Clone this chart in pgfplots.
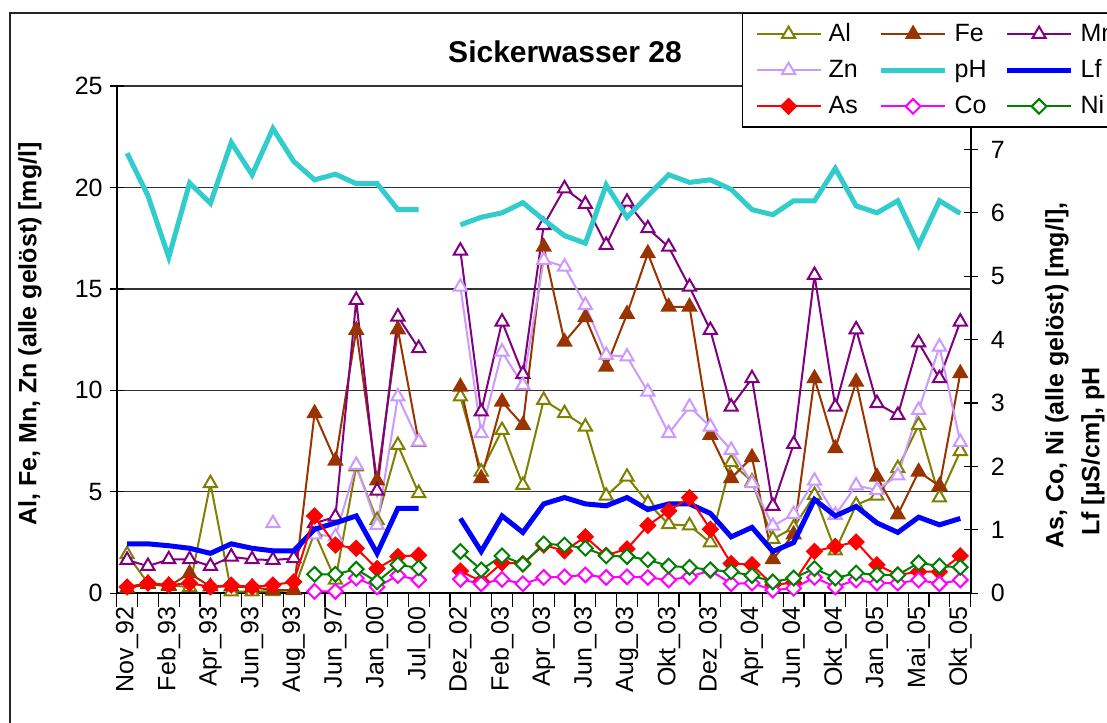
\documentclass[border=0pt]{standalone}
\usepackage{fontspec}
\setmainfont{Liberation Sans}
\usepackage{pgfplots}
\usepackage{pgfplotstable}
\pgfplotsset{compat=1.18}
\definecolor{alc}{RGB}{128,128,0}
\definecolor{fec}{RGB}{153,51,0}
\definecolor{mnc}{RGB}{128,0,128}
\definecolor{znc}{RGB}{204,153,255}
\definecolor{phc}{RGB}{51,204,204}
\definecolor{lfc}{RGB}{0,0,255}
\definecolor{asc}{RGB}{255,0,0}
\definecolor{coc}{RGB}{255,0,255}
\definecolor{nic}{RGB}{0,128,0}

\pgfplotstableread{
i  Al    Fe    Mn    Zn    pH    Lf    As    Co    Ni
0  1.92  0.25  1.64  nan   6.94  0.78  0.10  nan   nan
1  0.50  0.45  1.34  nan   6.27  0.78  0.16  nan   nan
2  0.40  0.35  1.67  nan   5.30  0.75  0.13  nan   nan
3  0.30  0.98  1.67  nan   6.47  0.71  0.16  nan   nan
4  5.42  0.33  1.34  nan   6.15  0.63  0.10  nan   nan
5  0.08  0.33  1.80  nan   7.11  0.78  0.13  nan   nan
6  0.08  0.30  1.67  nan   6.60  0.71  0.10  nan   nan
7  0.10  0.16  1.64  3.45  7.33  0.67  0.13  nan   nan
8  0.15  0.16  1.72  nan   6.81  0.67  0.18  nan   nan
9  3.00  8.87  3.45  2.90  6.52  1.01  1.22  0.03  0.30
10 0.66  6.53  3.77  2.80  6.61  1.11  0.76  0.03  0.30
11 6.24  12.97 14.45 6.32  6.46  1.22  0.71  0.24  0.38
12 3.60  5.55  5.05  3.36  6.46  0.63  0.39  0.10  0.18
13 7.30  13.00 13.63 9.69  6.05  1.34  0.58  0.28  0.45
14 4.93  7.45  12.07 7.47  6.05  1.34  0.60  0.21  0.40
15 nan   nan   nan   nan   nan   nan   nan   nan   nan
16 9.69  10.18 16.88 15.10 5.81  1.18  0.35  0.22  0.66
17 5.99  5.67  8.95  7.88  5.93  0.66  0.19  0.15  0.37
18 8.04  9.44  13.38 11.90 6.00  1.22  0.48  0.22  0.59
19 5.33  8.29  10.80 10.26 6.16  0.96  0.47  0.15  0.46
20 9.52  17.07 18.14 16.42 5.89  1.41  0.76  0.25  0.78
21 8.87  12.39 19.95 16.09 5.64  1.51  0.67  0.26  0.76
22 8.21  13.60 19.18 14.20 5.52  1.41  0.89  0.29  0.71
23 4.80  11.16 17.16 11.74 6.44  1.38  0.60  0.25  0.59
24 5.74  13.76 19.29 11.66 5.93  1.51  0.70  0.26  0.58
25 4.45  16.75 17.98 9.93  6.27  1.32  1.07  0.25  0.53
26 3.40  14.12 17.07 7.88  6.60  1.41  1.30  0.21  0.43
27 3.34  14.12 15.10 9.19  6.48  1.41  1.51  0.26  0.41
28 2.50  7.80  12.97 8.21  6.52  1.26  1.01  0.36  0.37
29 6.45  5.67  9.19  7.06  6.37  0.89  0.47  0.15  0.34
30 5.50  6.70  10.59 5.42  6.05  1.04  0.45  0.16  0.28
31 2.67  1.68  4.30  3.32  5.97  0.66  0.13  0.05  0.18
32 3.24  2.90  7.35  3.90  6.19  0.80  0.17  0.08  0.24
33 4.84  10.59 15.68 5.54  6.19  1.48  0.66  0.25  0.39
34 2.10  7.14  9.19  3.86  6.70  1.22  0.74  0.10  0.24
35 4.35  10.42 13.00 5.31  6.11  1.37  0.81  0.21  0.32
36 4.80  5.74  9.36  5.09  6.00  1.11  0.45  0.16  0.29
37 6.16  3.88  8.78  5.80  6.19  0.96  0.29  0.16  0.29
38 8.29  5.99  12.35 9.03  5.49  1.20  0.34  0.21  0.48
39 4.72  5.29  10.59 12.15 6.19  1.08  0.34  0.15  0.43
40 7.00  10.84 13.38 7.45  5.99  1.18  0.59  0.21  0.41
}\data

\pgfplotsset{
  alst/.style={color=alc, line width=1pt, mark=triangle*, mark size=3.8pt, mark options={solid, fill=white, line width=1pt}},
  fest/.style={color=fec, line width=1pt, mark=triangle*, mark size=3.8pt, mark options={solid, fill=fec, line width=1pt}},
  mnst/.style={color=mnc, line width=1pt, mark=triangle*, mark size=3.8pt, mark options={solid, fill=white, line width=1pt}},
  znst/.style={color=znc, line width=1pt, mark=triangle*, mark size=3.8pt, mark options={solid, fill=white, line width=1pt}},
  phst/.style={color=phc, line width=2.5pt, no markers},
  lfst/.style={color=lfc, line width=2.5pt, no markers},
  asst/.style={color=asc, line width=1pt, mark=square*, mark size=2.6pt, mark options={solid, rotate=45, fill=asc, line width=1pt}},
  cost/.style={color=coc, line width=1pt, mark=square*, mark size=2.6pt, mark options={solid, rotate=45, fill=white, line width=1pt}},
  nist/.style={color=nic, line width=1pt, mark=square*, mark size=2.6pt, mark options={solid, rotate=45, fill=white, line width=1pt}},
  common/.style={
    at={(58.35pt,64.35pt)}, anchor=south west, scale only axis,
    width=427pt, height=253.65pt,
    xmin=-0.5, xmax=40.5,
    unbounded coords=jump,
    axis line style={-, black, line width=0.9pt},
    tick style={black, line width=0.6pt},
    major tick length=7pt,
    ytick align=center,
    xtick align=outside,
    tick label style={font=\fontsize{12.5}{15}\selectfont},
    /pgf/number format/assume math mode=true,
  },
}

\begin{document}
\begin{tikzpicture}[font=\fontsize{12.5}{15}\selectfont]
\useasboundingbox (0pt,0pt) rectangle (553.5pt,361pt);
\fill[white] (0pt,0pt) rectangle (553.5pt,361pt);
\clip (0pt,0pt) rectangle (553.5pt,361pt);
\draw[black!85, line width=0.6pt] (5pt,354.5pt) rectangle (570pt,-15pt);

\begin{axis}[common,
  ymin=0, ymax=25,
  axis x line*=bottom, axis y line*=left,
  xtick={-0.5,0.5,...,40.5}, xticklabels={},
  extra x ticks={0,2,...,40},
  extra x tick labels={Nov\_92,Feb\_93,Apr\_93,Jun\_93,Aug\_93,Jun\_97,Jan\_00,Jul\_00,Dez\_02,Feb\_03,Apr\_03,Jun\_03,Aug\_03,Okt\_03,Dez\_03,Apr\_04,Jun\_04,Okt\_04,Jan\_05,Mai\_05,Okt\_05},
  extra x tick style={major tick length=0pt, tick label style={yshift=-3pt, rotate=90, anchor=east}},
  ytick={0,5,...,25},
  ymajorgrids, grid style={black!80, line width=0.6pt},
]
\addplot[alst] table[x=i,y=Al]{\data};
\addplot[fest] table[x=i,y=Fe]{\data};
\addplot[mnst] table[x=i,y=Mn]{\data};
\addplot[znst] table[x=i,y=Zn]{\data};
\end{axis}

\begin{axis}[common,
  ymin=0, ymax=8,
  axis y line*=right, axis x line=none,
  ytick={0,1,...,7},
  yticklabel style={xshift=3pt},
  legend columns=3,
  legend image code/.code={\draw[mark repeat=2,mark phase=2,#1] plot coordinates {(0pt,0pt) (16pt,0pt) (32pt,0pt)};},
  legend cell align=left,
  legend style={at={(0.7322,1.1439)}, anchor=north west, draw=black, line width=0.6pt, fill=white,
    inner xsep=6.5pt, inner ysep=3pt,
    nodes={inner xsep=3.5pt, inner ysep=2pt, text width=20pt},
    /tikz/every even column/.append style={column sep=1.5pt},
    row sep=3.5pt},
]
\addlegendimage{alst}\addlegendentry{Al}
\addlegendimage{fest}\addlegendentry{Fe}
\addlegendimage{mnst}\addlegendentry{Mn}
\addlegendimage{znst}\addlegendentry{Zn}
\addplot[phst] table[x=i,y=pH]{\data}; \addlegendentry{pH}
\addplot[lfst] table[x=i,y=Lf]{\data}; \addlegendentry{Lf}
\addplot[asst] table[x=i,y=As]{\data}; \addlegendentry{As}
\addplot[cost] table[x=i,y=Co]{\data}; \addlegendentry{Co}
\addplot[nist] table[x=i,y=Ni]{\data}; \addlegendentry{Ni}
\end{axis}

\node[font=\fontsize{15}{18}\selectfont\bfseries] at (282.5pt,335pt) {Sickerwasser 28};
\node[rotate=90, font=\fontsize{12.5}{15}\selectfont\bfseries] at (15pt,194pt) {Al, Fe, Mn, Zn (alle gelöst) [mg/l]};
\node[rotate=90, anchor=west, font=\fontsize{12.5}{15}\selectfont\bfseries, inner sep=0pt] at (528.5pt,86.5pt) {As, Co, Ni (alle gelöst) [mg/l],};
\node[rotate=90, anchor=west, font=\fontsize{12.5}{15}\selectfont\bfseries, inner sep=0pt] at (546.5pt,93pt) {Lf [µS/cm], pH};
\end{tikzpicture}
\end{document}
